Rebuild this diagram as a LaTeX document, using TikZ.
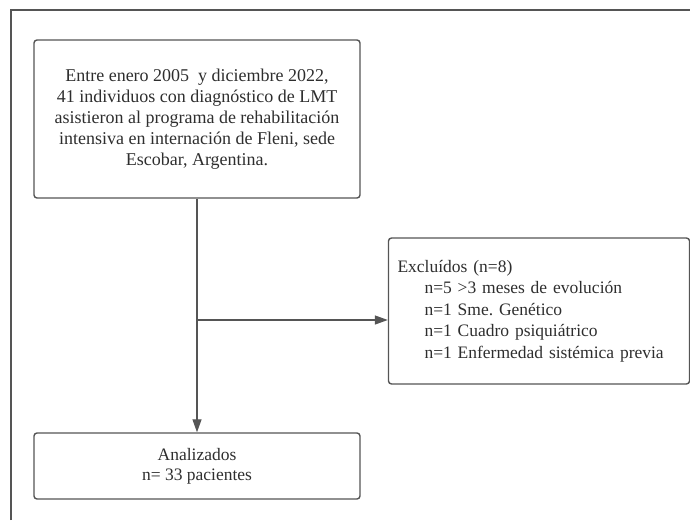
\documentclass[tikz,border=0pt]{standalone}
\usepackage{fontspec}
\setmainfont{Liberation Serif}
\frenchspacing
\usetikzlibrary{positioning, arrows.meta}
\definecolor{linea}{HTML}{555555}
\definecolor{texto}{HTML}{2E2E2E}

\begin{document}
\begin{tikzpicture}[x=1pt, y=1pt,
	caja/.style={draw=linea, line width=1.4pt, rounded corners=3pt, text=texto, inner sep=0pt},
	flecha/.style={draw=linea, line width=1.3pt, -{Triangle[length=13pt, width=9pt]}}]
			\useasboundingbox (0,0) rectangle (690,520);
			\draw[linea, line width=1.3pt] (11,0) -- (11,510) -- (690,510);

			\node[caja, minimum width=326, minimum height=158, align=center,
			font=\fontsize{18}{21}\selectfont] (ingreso) at (197,401)
			{Entre enero 2005 \ y diciembre 2022,\\41 individuos con diagnóstico de LMT\\asistieron al programa de rehabilitación\\intensiva en internación de Fleni, sede\\Escobar, Argentina.};
			\node[caja, minimum width=292, minimum height=146, align=left, text width=283,
			inner xsep=9pt, font=\fontsize{17.5}{21.5}\selectfont] (excluidos) at (539,209)
			{Excluídos (n=8)\\\hspace*{27pt}n=5 >3 meses de evolución\\\hspace*{27pt}n=1 Sme. Genético\\\hspace*{27pt}n=1 Cuadro psiquiátrico\\\hspace*{27pt}n=1 Enfermedad sistémica previa};
			\node[caja, minimum width=326, minimum height=66, align=center,
			font=\fontsize{17.5}{20}\selectfont] (analizados) at (197,54)
			{Analizados\\n= 33 pacientes};

			\coordinate (cruce) at (ingreso.south |- 0,200);
			\draw[flecha] (ingreso) -- (analizados);
			\draw[flecha] (cruce) -- (cruce -| excluidos.west);

		\end{tikzpicture}
\end{document}
